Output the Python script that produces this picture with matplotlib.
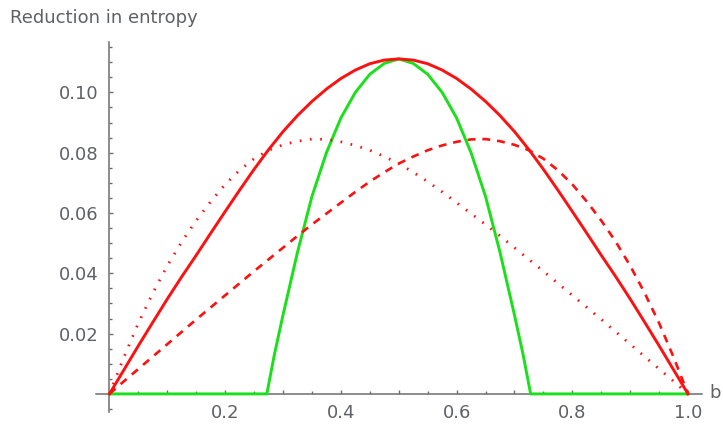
import matplotlib
matplotlib.use("Agg")
import matplotlib.pyplot as plt
from matplotlib.ticker import FixedLocator, FixedFormatter

# Sample positions along b shared by the red curves (step 0.025)
b_vals = [0.000, 0.025, 0.050, 0.075, 0.100, 0.125, 0.150, 0.175, 0.200, 0.225,
          0.250, 0.275, 0.300, 0.325, 0.350, 0.375, 0.400, 0.425, 0.450, 0.475,
          0.500, 0.525, 0.550, 0.575, 0.600, 0.625, 0.650, 0.675, 0.700, 0.725,
          0.750, 0.775, 0.800, 0.825, 0.850, 0.875, 0.900, 0.925, 0.950, 0.975, 1.000]

# Solid red curve (symmetric about b = 0.5)
solid_red = [0.0000, 0.0080, 0.0160, 0.0238, 0.0315, 0.0389, 0.0460, 0.0533, 0.0605, 0.0676,
             0.0745, 0.0810, 0.0870, 0.0923, 0.0970, 0.1011, 0.1046, 0.1074, 0.1095, 0.1107,
             0.1111, 0.1107, 0.1095, 0.1074, 0.1046, 0.1011, 0.0970, 0.0923, 0.0870, 0.0810,
             0.0745, 0.0676, 0.0605, 0.0533, 0.0460, 0.0389, 0.0315, 0.0238, 0.0160, 0.0080, 0.0000]

# Dotted red curve (peak left of centre)
dotted_red = [0.0000, 0.0122, 0.0235, 0.0335, 0.0425, 0.0505, 0.0575, 0.0638, 0.0695, 0.0742,
              0.0780, 0.0808, 0.0826, 0.0838, 0.0845, 0.0844, 0.0836, 0.0824, 0.0808, 0.0787,
              0.0764, 0.0735, 0.0704, 0.0670, 0.0634, 0.0598, 0.0562, 0.0524, 0.0485, 0.0446,
              0.0407, 0.0367, 0.0327, 0.0287, 0.0247, 0.0206, 0.0165, 0.0124, 0.0083, 0.0042, 0.0000]

# Dashed red curve (peak right of centre)
dashed_red = [0.0000, 0.0042, 0.0083, 0.0124, 0.0165, 0.0206, 0.0247, 0.0287, 0.0327, 0.0367,
              0.0407, 0.0446, 0.0485, 0.0524, 0.0562, 0.0598, 0.0634, 0.0670, 0.0704, 0.0735,
              0.0764, 0.0787, 0.0808, 0.0824, 0.0836, 0.0844, 0.0845, 0.0838, 0.0826, 0.0808,
              0.0780, 0.0742, 0.0695, 0.0638, 0.0575, 0.0505, 0.0425, 0.0335, 0.0235, 0.0122, 0.0000]

# Green curve: flat at zero outside the central window
green_b = [0.000, 0.272, 0.285, 0.300, 0.325, 0.350, 0.375, 0.400, 0.425, 0.450, 0.475, 0.500,
           0.525, 0.550, 0.575, 0.600, 0.625, 0.650, 0.675, 0.700, 0.715, 0.728, 1.000]
green_vals = [0.0000, 0.0000, 0.0130, 0.0262, 0.0470, 0.0655, 0.0800, 0.0915, 0.1000, 0.1060, 0.1096, 0.1111,
              0.1096, 0.1060, 0.1000, 0.0915, 0.0800, 0.0655, 0.0470, 0.0262, 0.0130, 0.0000, 0.0000]

x_major = [0.1, 0.2, 0.3, 0.4, 0.5, 0.6, 0.7, 0.8, 0.9, 1.0]
x_major_labels = ["", "0.2", "", "0.4", "", "0.6", "", "0.8", "", "1.0"]
x_minor = [0.05, 0.15, 0.25, 0.35, 0.45, 0.55, 0.65, 0.75, 0.85, 0.95]
y_major = [0.02, 0.04, 0.06, 0.08, 0.10]
y_major_labels = ["0.02", "0.04", "0.06", "0.08", "0.10"]
y_minor = [-0.005, 0.005, 0.01, 0.015, 0.025, 0.03, 0.035, 0.045, 0.05, 0.055,
           0.065, 0.07, 0.075, 0.085, 0.09, 0.095, 0.105, 0.11, 0.115]

W, H = 723, 426
fig = plt.figure(figsize=(W / 100, H / 100), dpi=100)
ax = fig.add_axes([96 / W, (H - 412) / H, 606 / W, 370 / H])
ax.set_xlim(-0.0233, 1.0242)
ax.set_ylim(-0.0060, 0.1167)

axis_col = "#6e6e6e"
text_col = "#5f6166"

for side in ("top", "right"):
    ax.spines[side].set_visible(False)
ax.spines["left"].set_position(("data", 0))
ax.spines["bottom"].set_position(("data", 0))
for side in ("left", "bottom"):
    ax.spines[side].set_color(axis_col)
    ax.spines[side].set_linewidth(1.1)

red = "#ff1010"
green = "#19e019"

ax.plot(green_b, green_vals, color=green, lw=2.1, solid_joinstyle="round", zorder=3)
ax.plot(b_vals, solid_red, color=red, lw=2.1, solid_joinstyle="round", zorder=4)
ax.plot(b_vals, dashed_red, color=red, lw=1.9, linestyle=(0, (3.0, 2.6)), zorder=4)
ax.plot(b_vals, dotted_red, color=red, lw=2.0, linestyle=(0, (0.6, 3.1)), zorder=4)

ax.xaxis.set_major_locator(FixedLocator(x_major))
ax.xaxis.set_major_formatter(FixedFormatter(x_major_labels))
ax.xaxis.set_minor_locator(FixedLocator(x_minor))
ax.yaxis.set_major_locator(FixedLocator(y_major))
ax.yaxis.set_major_formatter(FixedFormatter(y_major_labels))
ax.yaxis.set_minor_locator(FixedLocator(y_minor))

ax.tick_params(axis="both", which="major", direction="in", length=3.0, width=1.0,
               color=axis_col, labelcolor=text_col, labelsize=13)
ax.tick_params(axis="both", which="minor", direction="in", length=1.9, width=1.0,
               color=axis_col)
ax.tick_params(axis="x", which="major", pad=7)
ax.tick_params(axis="y", which="major", pad=8)

fig.text(10 / W, 1 - 23 / H, "Reduction in entropy", color=text_col, fontsize=13,
         ha="left", va="baseline")
fig.text(709 / W, 1 - 398 / H, "b", color=text_col, fontsize=13,
         ha="left", va="baseline")

fig.savefig("out.png", dpi=100)
